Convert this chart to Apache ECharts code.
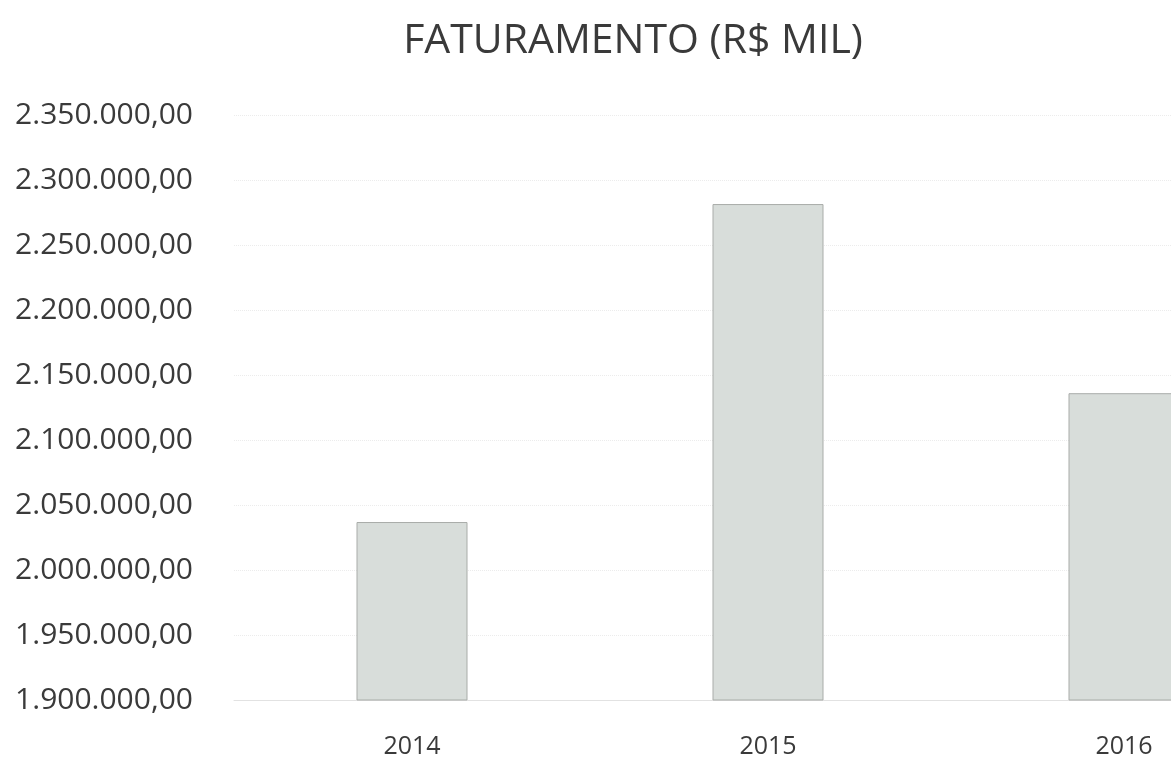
<!DOCTYPE html>
<html>
<head>
<meta charset="utf-8">
<script src="https://cdn.jsdelivr.net/npm/echarts@6/dist/echarts.min.js"></script>
<style>
  html, body { margin: 0; padding: 0; background: #fff; }
  #chart { width: 1171px; height: 757px; }
</style>
</head>
<body>
<div id="chart"></div>
<script>
// dados
const years = ['2014', '2015', '2016']
const faturamento = [2036900, 2281500, 2136000]
const yMin = 1900000
const yMax = 2350000
const yStep = 50000

function formatBR(v) {
  // 2350000 -> 2.350.000,00
  const s = Math.round(v).toString().replace(/\B(?=(\d{3})+(?!\d))/g, '.')
  return s + ',00'
}

const chart = echarts.init(document.getElementById('chart'))

const option = {
  backgroundColor: '#fff',
  animation: false,
  title: {
    text: 'FATURAMENTO (R$ MIL)',
    left: 628,
    top: 16,
    textAlign: 'center',
    textStyle: {
      fontFamily: 'Open Sans',
      fontWeight: 'normal',
      fontSize: 41,
      color: '#3a3a3a'
    }
  },
  grid: {
    left: 234,
    top: 115,
    right: -131,
    bottom: 57,
    outerBoundsMode: 'none',
    containLabel: false
  },
  xAxis: {
    type: 'category',
    data: years,
    axisLine: { show: true, lineStyle: { color: '#e2e2e2', width: 1 } },
    axisTick: { show: false },
    axisLabel: {
      margin: 34,
      fontFamily: 'Open Sans',
      fontSize: 25,
      color: '#3a3a3a'
    }
  },
  yAxis: {
    type: 'value',
    min: yMin,
    max: yMax,
    interval: yStep,
    axisLine: { show: false },
    axisTick: { show: false },
    splitLine: { lineStyle: { color: '#ececec', type: 'dotted', width: 1 } },
    axisLabel: {
      margin: 41,
      fontFamily: 'Open Sans',
      fontSize: 30,
      color: '#3a3a3a',
      formatter: formatBR
    }
  },
  series: [{
    type: 'bar',
    data: faturamento,
    barWidth: 111,
    itemStyle: {
      color: '#d8ddda',
      borderColor: '#a9aca9',
      borderWidth: 1
    }
  }]
}

chart.setOption(option)
</script>
</body>
</html>
